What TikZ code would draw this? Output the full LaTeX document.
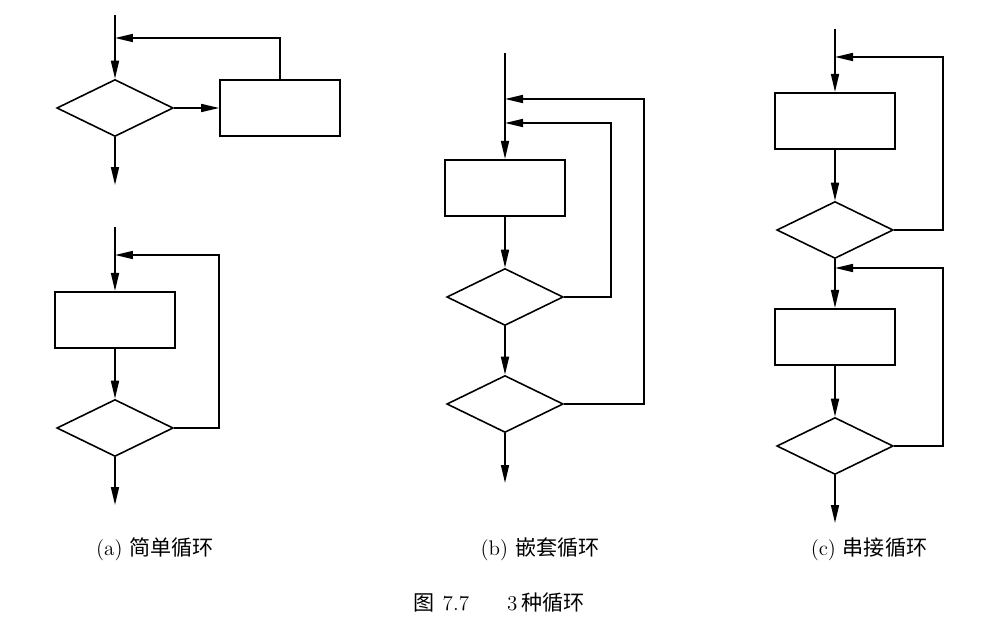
\documentclass[tikz,border=0pt]{standalone}
\usepackage{fontspec}
\newfontfamily\cjk{Noto Sans CJK SC}
\usetikzlibrary{shapes.geometric,arrows.meta}
\begin{document}
\begin{tikzpicture}[x=0.02cm,y=-0.02cm,line width=0.9pt,
    proc/.style={draw,minimum width=2.4cm,minimum height=1.13cm,inner sep=0pt},
    cond/.style={draw,diamond,minimum width=2.33cm,minimum height=1.14cm,inner sep=0pt},
    flow/.style={-{Triangle[length=3.6mm,width=1.6mm]}},
    capt/.style={font=\fontsize{12}{14}\selectfont,inner sep=0pt}]
    \useasboundingbox (0,0) rectangle (1000,635);
    % (a) top
    \coordinate (a0) at (115,15);
    \coordinate (j1) at (115,38);
    \node[cond] (D1) at (115,108) {};
    \node[proc] (P1) at (280,108) {};
    \coordinate (a1) at (115,185);
    \draw[flow] (a0) -- (D1.north);
    \draw[flow] (D1.east) -- (P1.west);
    \draw[flow] (D1.south) -- (a1);
    \draw[flow] (P1.north) |- (j1);
    % (a) bottom
    \coordinate (a2) at (115,227);
    \coordinate (j2) at (115,255);
    \node[proc] (P2) at (115,320) {};
    \node[cond] (D2) at (115,428) {};
    \coordinate (a3) at (115,505);
    \draw[flow] (a2) -- (P2.north);
    \draw[flow] (P2.south) -- (D2.north);
    \draw[flow] (D2.south) -- (a3);
    \draw[flow] (D2.east) -- ++(45,0) |- (j2);
    % (b)
    \coordinate (b0) at (505,53);
    \coordinate (b1) at (505,99);
    \coordinate (b2) at (505,123);
    \node[proc] (P3) at (505,188) {};
    \node[cond] (D3) at (505,297) {};
    \node[cond] (D4) at (505,404) {};
    \coordinate (b3) at (505,483);
    \draw[flow] (b0) -- (P3.north);
    \draw[flow] (P3.south) -- (D3.north);
    \draw[flow] (D3.south) -- (D4.north);
    \draw[flow] (D4.south) -- (b3);
    \draw[flow] (D3.east) -- ++(47,0) |- (b2);
    \draw[flow] (D4.east) -- ++(80,0) |- (b1);
    % (c)
    \coordinate (c0) at (835,29);
    \coordinate (c1) at (835,57);
    \coordinate (c2) at (835,268);
    \node[proc] (P4) at (835,121) {};
    \node[cond] (D5) at (835,230) {};
    \node[proc] (P5) at (835,337) {};
    \node[cond] (D6) at (835,446) {};
    \coordinate (c3) at (835,523);
    \draw[flow] (c0) -- (P4.north);
    \draw[flow] (P4.south) -- (D5.north);
    \draw[flow] (D5.south) -- (P5.north);
    \draw[flow] (P5.south) -- (D6.north);
    \draw[flow] (D6.south) -- (c3);
    \draw[flow] (D5.east) -- ++(49,0) |- (c1);
    \draw[flow] (D6.east) -- ++(49,0) |- (c2);
    % captions
    \node[capt] (ta) at (155,549) {(a) {\cjk 简单循环}};
    \node[capt] (tb) at (540,549) {(b) {\cjk 嵌套循环}};
    \node[capt] (tc) at (869,549) {(c) {\cjk 串接循环}};
    \node[capt] (fig) at (499,603) {{\cjk 图}\hspace{0.4em}7.7\hspace{1.8em}3\hspace{0.2em}{\cjk 种循环}};
\end{tikzpicture}
\end{document}
